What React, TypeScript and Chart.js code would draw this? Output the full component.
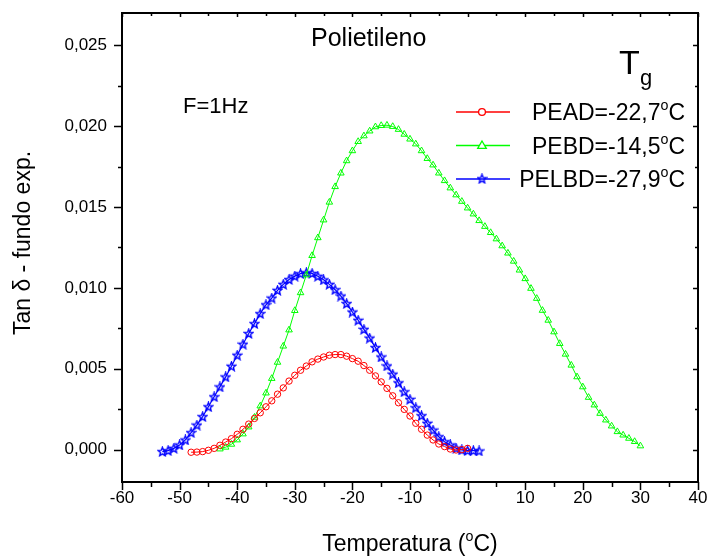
import React, { useEffect, useRef } from "react";
import { Chart, registerables } from "chart.js";

Chart.register(...registerables);

const peadT = [-48,-47,-46,-45,-44,-43,-42,-41,-40,-39,-38,-37,-36,-35,-34,-33,-32,-31,-30,-29,-28,-27,-26,-25,-24,-23,-22,-21,-20,-19,-18,-17,-16,-15,-14,-13,-12,-11,-10,-9,-8,-7,-6,-5,-4,-3,-2,-1,0];
const peadV = [-0.00016,-0.00015,-0.00012,-0.00004,0.00008,0.00027,0.00047,0.00068,0.00095,0.00126,0.00158,0.00193,0.00228,0.00265,0.00302,0.00343,0.00382,0.00424,0.0046,0.00491,0.00517,0.00543,0.0056,0.00573,0.00584,0.00588,0.00588,0.00578,0.00563,0.00547,0.0052,0.00491,0.00456,0.00419,0.00379,0.00333,0.0029,0.00249,0.00208,0.00163,0.00126,0.0009,0.0006,0.00035,0.00019,0.00004,-0.00002,0.0,0.00008];

const pebdT = [-43,-42,-41,-40,-39,-38,-37,-36,-35,-34,-33,-32,-31,-30,-29,-28,-27,-26,-25,-24,-23,-22,-21,-20,-19,-18,-17,-16,-15,-14,-13,-12,-11,-10,-9,-8,-7,-6,-5,-4,-3,-2,-1,0,1,2,3,4,5,6,7,8,9,10,11,12,13,14,15,16,17,18,19,20,21,22,23,24,25,26,27,28,29,30];
const pebdV = [0.00004,0.00015,0.00033,0.0006,0.00097,0.0014,0.002,0.0027,0.0035,0.0044,0.0054,0.0064,0.0074,0.0086,0.0097,0.0108,0.012,0.0131,0.0142,0.0153,0.01626,0.0171,0.01786,0.01848,0.01905,0.0194,0.0197,0.01996,0.02004,0.02006,0.01998,0.0198,0.0195,0.0192,0.0189,0.01848,0.018,0.0176,0.0171,0.01663,0.01618,0.01575,0.01535,0.01494,0.01457,0.01416,0.0138,0.01342,0.01303,0.0126,0.01215,0.01165,0.0111,0.01057,0.00997,0.00935,0.00861,0.008,0.00728,0.00656,0.0059,0.00522,0.0045,0.00388,0.00323,0.00276,0.00224,0.00183,0.00146,0.00111,0.0009,0.0007,0.0005,0.00023];

const pelbdT = [-53,-52,-51,-50,-49,-48,-47,-46,-45,-44,-43,-42,-41,-40,-39,-38,-37,-36,-35,-34,-33,-32,-31,-30,-29,-28,-27,-26,-25,-24,-23,-22,-21,-20,-19,-18,-17,-16,-15,-14,-13,-12,-11,-10,-9,-8,-7,-6,-5,-4,-3,-2,-1,0,1,2];
const pelbdV = [-0.00012,-0.00006,0.00008,0.00029,0.0006,0.00105,0.00152,0.00204,0.00265,0.00327,0.00388,0.0045,0.00516,0.00584,0.00652,0.00718,0.00779,0.00841,0.00896,0.00937,0.00985,0.01022,0.01052,0.01073,0.01088,0.01094,0.0109,0.01072,0.0105,0.01022,0.00989,0.0095,0.00903,0.00851,0.008,0.00744,0.0069,0.00631,0.00573,0.00518,0.00467,0.00413,0.00358,0.00311,0.00259,0.0021,0.00163,0.00121,0.0008,0.00049,0.00029,0.00009,-0.00002,-0.00006,-0.00006,-0.00008];

const xMajor = [-60,-50,-40,-30,-20,-10,0,10,20,30,40];
const xMinor = [-55,-45,-35,-25,-15,-5,5,15,25,35];
const yMajor = [0,0.005,0.01,0.015,0.02,0.025];
const yMinor = [0.0025,0.0075,0.0125,0.0175,0.0225];

const seriesNames = ["PEAD=-22,7", "PEBD=-14,5", "PELBD=-27,9"];
const seriesColors = ["#ff0000", "#00ff00", "#0000ff"];

const FONT = "'Liberation Sans', Arial, sans-serif";

function makeStar(color: string): HTMLCanvasElement {
  const c = document.createElement("canvas");
  c.width = 11;
  c.height = 11;
  const g = c.getContext("2d")!;
  g.strokeStyle = color;
  g.lineWidth = 1.4;
  g.beginPath();
  for (let i = 0; i < 10; i++) {
    const r = i % 2 === 0 ? 4.6 : 2.0;
    const a = -Math.PI / 2 + (i * Math.PI) / 5;
    const px = 5.5 + r * Math.cos(a);
    const py = 5.8 + r * Math.sin(a);
    if (i === 0) g.moveTo(px, py);
    else g.lineTo(px, py);
  }
  g.closePath();
  g.stroke();
  return c;
}

function drawSupText(ctx: CanvasRenderingContext2D, pre: string, post: string, x: number, y: number, size: number, align: "left" | "right" | "center") {
  ctx.font = `${size}px ${FONT}`;
  const w1 = ctx.measureText(pre).width;
  const supSize = size * 0.62;
  ctx.font = `${supSize}px ${FONT}`;
  const ws = ctx.measureText("o").width;
  ctx.font = `${size}px ${FONT}`;
  const w2 = ctx.measureText(post).width;
  const total = w1 + ws + w2;
  let sx = x;
  if (align === "right") sx = x - total;
  else if (align === "center") sx = x - total / 2;
  ctx.textAlign = "left";
  ctx.textBaseline = "alphabetic";
  ctx.fillText(pre, sx, y);
  ctx.font = `${supSize}px ${FONT}`;
  ctx.fillText("o", sx + w1, y - size * 0.42);
  ctx.font = `${size}px ${FONT}`;
  ctx.fillText(post, sx + w1 + ws, y);
}

export default function App() {
  const ref = useRef<HTMLCanvasElement | null>(null);

  useEffect(() => {
    if (!ref.current) return;
    const star = makeStar(seriesColors[2]);

    const decor = {
      id: "decor",
      afterDraw(chart: any) {
        const ctx: CanvasRenderingContext2D = chart.ctx;
        const { left, right, top, bottom } = chart.chartArea;
        const xs = chart.scales.x;
        const ys = chart.scales.y;
        ctx.save();
        ctx.strokeStyle = "#000";
        ctx.fillStyle = "#000";
        ctx.lineWidth = 1.5;
        ctx.beginPath();
        xMajor.forEach((v) => {
          const p = Math.round(xs.getPixelForValue(v)) + 0.5;
          ctx.moveTo(p, bottom); ctx.lineTo(p, bottom + 8);
          ctx.moveTo(p, top); ctx.lineTo(p, top + 4);
        });
        xMinor.forEach((v) => {
          const p = Math.round(xs.getPixelForValue(v)) + 0.5;
          ctx.moveTo(p, bottom); ctx.lineTo(p, bottom + 5);
          ctx.moveTo(p, top); ctx.lineTo(p, top + 3);
        });
        yMajor.forEach((v) => {
          const p = Math.round(ys.getPixelForValue(v)) + 0.5;
          ctx.moveTo(left, p); ctx.lineTo(left - 8, p);
          ctx.moveTo(right, p); ctx.lineTo(right - 5, p);
        });
        yMinor.forEach((v) => {
          const p = Math.round(ys.getPixelForValue(v)) + 0.5;
          ctx.moveTo(left, p); ctx.lineTo(left - 4, p);
          ctx.moveTo(right, p); ctx.lineTo(right - 3, p);
        });
        ctx.stroke();
        ctx.lineWidth = 2;
        ctx.strokeRect(left, top, right - left, bottom - top);

        ctx.font = `25px ${FONT}`;
        ctx.textAlign = "left";
        ctx.textBaseline = "alphabetic";
        ctx.fillText("Polietileno", 311, 46);
        ctx.font = `22px ${FONT}`;
        ctx.fillText("F=1Hz", 183, 113);
        ctx.font = `34px ${FONT}`;
        ctx.fillText("T", 619, 74);
        ctx.font = `22px ${FONT}`;
        ctx.fillText("g", 640, 85);

        const rows = [112, 145.5, 179];
        rows.forEach((ry, i) => {
          ctx.strokeStyle = seriesColors[i];
          ctx.lineWidth = 1.3;
          ctx.beginPath();
          ctx.moveTo(456, ry);
          ctx.lineTo(510, ry);
          ctx.stroke();
          const mx = 482;
          if (i === 0) {
            ctx.fillStyle = "#fff";
            ctx.beginPath();
            ctx.arc(mx, ry, 3.4, 0, Math.PI * 2);
            ctx.fill();
            ctx.stroke();
          } else if (i === 1) {
            ctx.fillStyle = "#fff";
            ctx.beginPath();
            ctx.moveTo(mx, ry - 4.5);
            ctx.lineTo(mx + 4.3, ry + 2.8);
            ctx.lineTo(mx - 4.3, ry + 2.8);
            ctx.closePath();
            ctx.fill();
            ctx.stroke();
          } else {
            ctx.drawImage(star, mx - 5.5, ry - 5.8);
          }
          ctx.fillStyle = "#000";
          drawSupText(ctx, seriesNames[i], "C", 685, ry + 8, 23, "right");
        });

        ctx.fillStyle = "#000";
        drawSupText(ctx, "Temperatura (", "C)", (left + right) / 2, 551, 23, "center");
        ctx.save();
        ctx.translate(30, 243);
        ctx.rotate(-Math.PI / 2);
        ctx.font = `23px ${FONT}`;
        ctx.textAlign = "center";
        ctx.textBaseline = "alphabetic";
        ctx.fillText("Tan \u03b4 - fundo exp.", 0, 0);
        ctx.restore();
        ctx.restore();
      },
    };

    const mk = (t: number[], v: number[]) => t.map((x, i) => ({ x, y: v[i] }));

    const chart = new Chart(ref.current, {
      type: "line",
      data: {
        datasets: [
          {
            label: seriesNames[0],
            data: mk(peadT, peadV),
            borderColor: seriesColors[0],
            backgroundColor: "rgba(0,0,0,0)",
            borderWidth: 1,
            pointStyle: "circle",
            pointRadius: 3.2,
            pointBorderWidth: 1,
            pointBorderColor: seriesColors[0],
            pointBackgroundColor: "rgba(0,0,0,0)",
            tension: 0,
          },
          {
            label: seriesNames[1],
            data: mk(pebdT, pebdV),
            borderColor: seriesColors[1],
            backgroundColor: "rgba(0,0,0,0)",
            borderWidth: 1,
            pointStyle: "triangle",
            pointRadius: 3.8,
            pointBorderWidth: 1,
            pointBorderColor: seriesColors[1],
            pointBackgroundColor: "rgba(0,0,0,0)",
            tension: 0,
          },
          {
            label: seriesNames[2],
            data: mk(pelbdT, pelbdV),
            borderColor: seriesColors[2],
            backgroundColor: "rgba(0,0,0,0)",
            borderWidth: 1.2,
            pointStyle: star as any,
            pointRadius: 4,
            tension: 0,
          },
        ],
      },
      options: {
        animation: false,
        responsive: false,
        maintainAspectRatio: false,
        layout: { padding: { left: 0, top: 13, right: 9, bottom: 0 } },
        plugins: { legend: { display: false }, tooltip: { enabled: false } },
        scales: {
          x: {
            type: "linear",
            min: -60,
            max: 40,
            afterBuildTicks: (s: any) => {
              s.ticks = xMajor.map((v) => ({ value: v }));
            },
            afterFit: (s: any) => {
              s.height = 74;
              s.paddingLeft = 0;
              s.paddingRight = 0;
            },
            grid: { display: false, drawTicks: false },
            border: { display: false },
            ticks: {
              color: "#000",
              font: { family: FONT, size: 17 },
              padding: 6,
              maxRotation: 0,
              autoSkip: false,
              callback: (v: any) => String(v),
            },
          },
          y: {
            type: "linear",
            min: -0.002,
            max: 0.027,
            afterBuildTicks: (s: any) => {
              s.ticks = yMajor.map((v) => ({ value: v }));
            },
            afterFit: (s: any) => {
              s.width = 122;
              s.paddingTop = 0;
              s.paddingBottom = 0;
            },
            grid: { display: false, drawTicks: false },
            border: { display: false },
            ticks: {
              color: "#000",
              font: { family: FONT, size: 17 },
              padding: 15,
              autoSkip: false,
              callback: (v: any) => Number(v).toFixed(3).replace(".", ","),
            },
          },
        },
      },
      plugins: [decor],
    });
    return () => chart.destroy();
  }, []);

  return (
    <div style={{ position: "absolute", left: 0, top: 0, width: 707, height: 556, background: "#fff" }}>
      <canvas ref={ref} width={707} height={556} style={{ width: 707, height: 556, display: "block" }} />
    </div>
  );
}
